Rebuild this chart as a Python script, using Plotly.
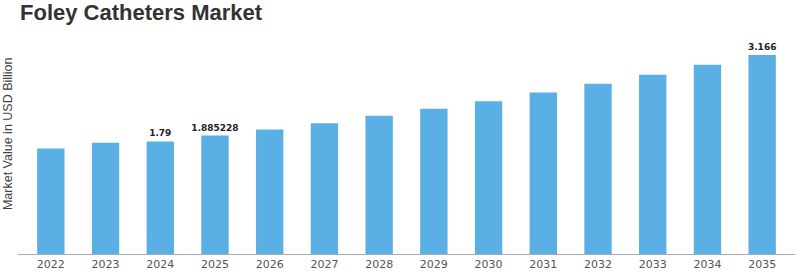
import plotly.graph_objects as go

years = ["2022", "2023", "2024", "2025", "2026", "2027", "2028", "2029",
         "2030", "2031", "2032", "2033", "2034", "2035"]
values = [1.68, 1.77, 1.79, 1.885228, 1.98, 2.08, 2.20, 2.31,
          2.43, 2.57, 2.71, 2.85, 3.01, 3.166]
labels = ["", "", "1.79", "1.885228", "", "", "", "", "", "", "", "", "", "3.166"]

fig = go.Figure()
fig.add_trace(go.Bar(
    x=years, y=values, text=labels, textposition="outside",
    constraintext="none",
    textfont=dict(family="DejaVu Sans", size=9, color="#222222"),
    texttemplate="<b>%{text}</b>", cliponaxis=False,
    marker=dict(color="#5aafe4", line=dict(width=0)),
    hoverinfo="skip",
))

W, H = 800, 276
ml, mr, mt, mb = 18, 5, 34, 20

fig.update_layout(
    width=W, height=H,
    margin=dict(l=ml, r=mr, t=mt, b=mb),
    paper_bgcolor="white", plot_bgcolor="white",
    bargap=0.5, showlegend=False,
    title=dict(text="<b>Foley Catheters Market</b>", x=0.025, xanchor="left",
               y=0.955, yanchor="middle",
               font=dict(family="Liberation Sans, Arial", size=22, color="#333333")),
    xaxis=dict(type="category", range=[-0.6, 13.6], showgrid=False,
               showline=True, linecolor="#aaaaaa", linewidth=1,
               ticks="", tickfont=dict(family="DejaVu Sans", size=11, color="#555555")),
    yaxis=dict(range=[0, 3.5], showgrid=False, showticklabels=False,
               zeroline=False, showline=False),
    annotations=[dict(text="Market Value in USD Billion", textangle=-90,
                      x=(8 - ml) / (W - ml - mr), y=(H - mb - 135) / (H - mt - mb),
                      xref="paper", yref="paper", xanchor="center", yanchor="middle",
                      showarrow=False,
                      font=dict(family="Liberation Sans, Arial", size=12.5, color="#444444"))],
)

fig.write_html("out.html")
